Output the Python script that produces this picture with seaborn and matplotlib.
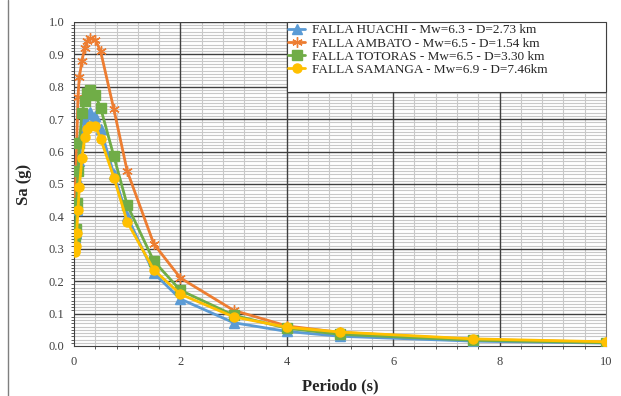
import numpy as np
import pandas as pd
import matplotlib
matplotlib.use("Agg")
import matplotlib.pyplot as plt
from matplotlib.ticker import MultipleLocator, FixedLocator, FormatStrFormatter
from matplotlib.lines import Line2D
from matplotlib.patches import Rectangle
import seaborn as sns

periods = [0.01, 0.02, 0.03, 0.05, 0.075, 0.1, 0.15, 0.2, 0.25, 0.3, 0.4, 0.5,
           0.75, 1.0, 1.5, 2.0, 3.0, 4.0, 5.0, 7.5, 10.0]
huachi = [0.33, 0.335, 0.35, 0.42, 0.51, 0.57, 0.65, 0.70, 0.715, 0.722, 0.71, 0.67,
          0.53, 0.40, 0.225, 0.145, 0.072, 0.045, 0.03, 0.015, 0.009]
ambato = [0.43, 0.45, 0.50, 0.62, 0.77, 0.83, 0.88, 0.92, 0.94, 0.95, 0.945, 0.91,
          0.73, 0.54, 0.315, 0.21, 0.11, 0.062, 0.042, 0.02, 0.012]
totoras = [0.34, 0.345, 0.36, 0.44, 0.54, 0.625, 0.72, 0.755, 0.78, 0.79, 0.775, 0.735,
           0.585, 0.435, 0.262, 0.172, 0.095, 0.055, 0.036, 0.018, 0.01]
samanga = [0.29, 0.295, 0.31, 0.35, 0.42, 0.49, 0.58, 0.645, 0.67, 0.68, 0.68, 0.64,
           0.52, 0.383, 0.235, 0.16, 0.09, 0.058, 0.043, 0.022, 0.013]
labels = ["FALLA HUACHI - Mw=6.3 - D=2.73 km",
          "FALLA AMBATO - Mw=6.5 - D=1.54 km",
          "FALLA TOTORAS - Mw=6.5 - D=3.30 km",
          "FALLA SAMANGA - Mw=6.9 - D=7.46km"]
colors = ["#5B9BD5", "#ED7D31", "#70AD47", "#FFC000"]
markers = ["^", (6, 2, 0), "s", "o"]
msizes = [6.5, 7.5, 6.5, 6.5]

df = pd.concat([pd.DataFrame({"T": periods, "Sa": v, "serie": l})
                for v, l in zip([huachi, ambato, totoras, samanga], labels)])

sns.set_style("white")
fig = plt.figure(figsize=(6.21, 3.96), dpi=100)
ax = fig.add_axes([74/621, 1-346/396, (606-74)/621, (346-22)/396])

# grid drawn manually: light minor lines under dark major lines
x_minor = [i * 0.4 for i in range(26) if i % 5 != 0]
y_minor = [i * 0.01 for i in range(101) if i % 10 != 0]
for xv in x_minor:
    ax.axvline(xv, color="#c8c8c8", linewidth=0.8, zorder=0.5)
for yv in y_minor:
    ax.axhline(yv, color="#c8c8c8", linewidth=0.8, zorder=0.5)
for xv in [2, 4, 6, 8]:
    ax.axvline(xv, color="#404040", linewidth=1.0, zorder=1)
for i in range(1, 11):
    ax.axhline(i * 0.1, color="#404040", linewidth=1.0, zorder=1)

for i, l in enumerate(labels):
    sub = df[df["serie"] == l]
    sns.lineplot(data=sub, x="T", y="Sa", ax=ax, color=colors[i], marker=markers[i],
                 markersize=msizes[i], markeredgecolor=colors[i], markeredgewidth=1.0,
                 linewidth=2.0, zorder=3 + i, sort=False, legend=False)

ax.set_xlim(0, 10)
ax.set_ylim(0, 1.0)
ax.xaxis.set_major_locator(MultipleLocator(2))
ax.xaxis.set_minor_locator(FixedLocator(x_minor))
ax.yaxis.set_major_locator(MultipleLocator(0.1))
ax.yaxis.set_minor_locator(FixedLocator(y_minor))
ax.grid(False)
ax.yaxis.set_major_formatter(FormatStrFormatter("%.1f"))

ax.spines["top"].set_visible(False)
ax.spines["left"].set_color("#404040")
ax.spines["bottom"].set_color("#404040")
ax.spines["right"].set_color("#808080")
ax.tick_params(axis="both", which="major", direction="out", length=5, width=1,
               color="#404040", labelsize=9, labelcolor="#404040", pad=2)
ax.tick_params(axis="y", which="minor", direction="out", length=2.5, width=0.6, color="#404040", left=True)
ax.tick_params(axis="x", which="minor", direction="out", length=2.5, width=0.6, color="#404040", bottom=True)
for t in ax.get_xticklabels() + ax.get_yticklabels():
    t.set_fontfamily("Liberation Serif")

ax.set_xlabel("Periodo (s)", fontfamily="Liberation Serif", fontweight="bold",
              fontsize=12, labelpad=8)
ax.set_ylabel("Sa (g)", fontfamily="Liberation Serif", fontweight="bold",
              fontsize=12, labelpad=12)

# legend frame
fig.add_artist(Rectangle((287/621, 1-92/396), (606-287)/621, 70/396,
                         transform=fig.transFigure, facecolor="white",
                         edgecolor="#404040", linewidth=0.8, zorder=9))
handles = [Line2D([0], [0], color=colors[i], marker=markers[i], markersize=msizes[i],
                  markeredgecolor=colors[i], linewidth=2.0) for i in range(4)]
leg = fig.legend(handles, labels, loc="upper left",
                 bbox_to_anchor=(288/621, 1-24/396), bbox_transform=fig.transFigure,
                 prop={"family": "Liberation Serif", "size": 9.5},
                 frameon=False, borderpad=0.0, labelspacing=0.08, handlelength=1.3,
                 handletextpad=0.5, borderaxespad=0.0)
leg.set_zorder(10)

fig.add_artist(Line2D([8/621, 8/621], [0, 1], color="#7f7f7f", linewidth=1.0))

fig.savefig("out.png", dpi=100)
